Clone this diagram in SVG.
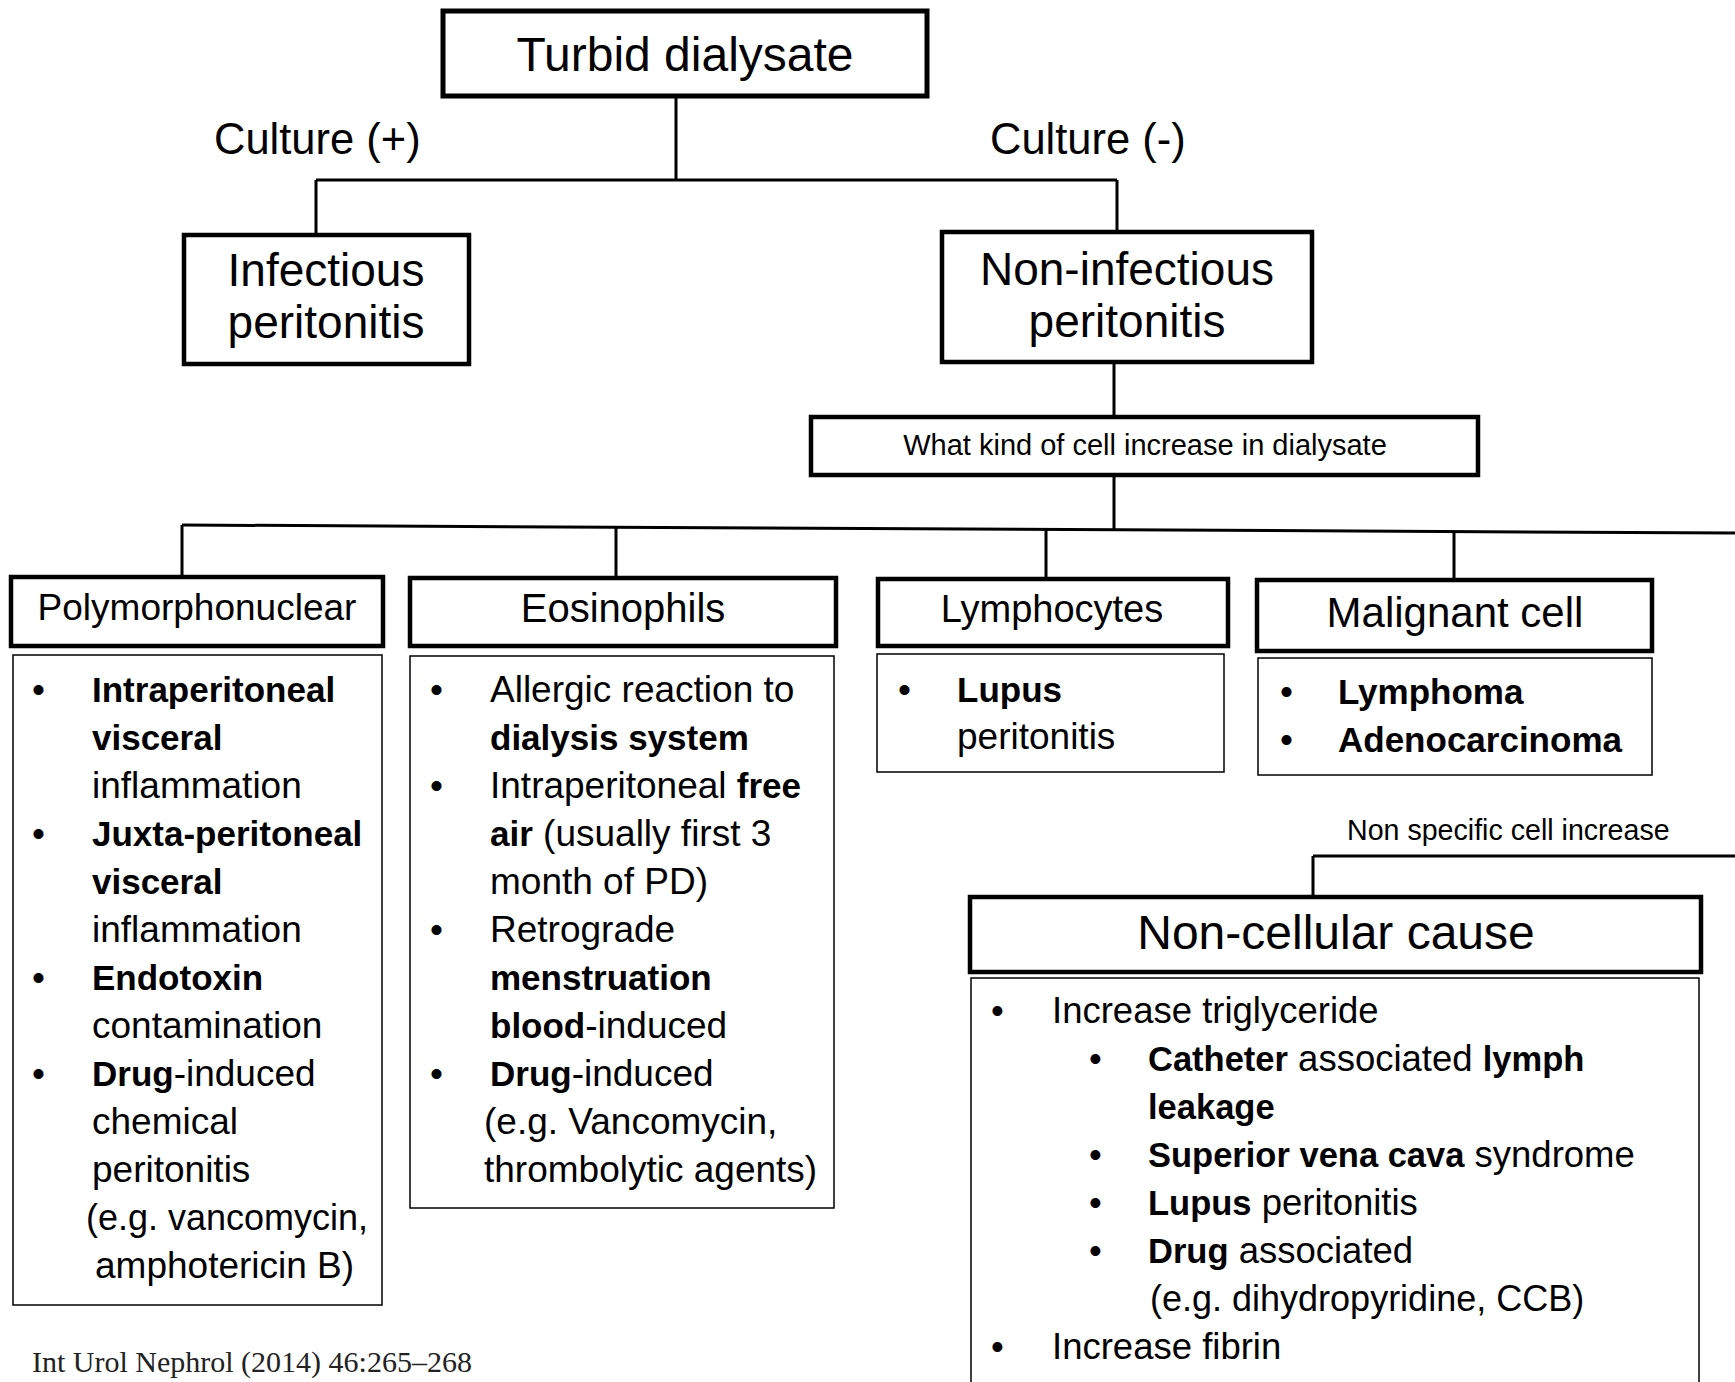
<svg xmlns="http://www.w3.org/2000/svg" width="1735" height="1382" viewBox="0 0 1735 1382">
<style>
text{font-family:"Liberation Sans",Arial,sans-serif;fill:#000}
.hdr{fill:#fff;stroke:#000;stroke-width:4.5}
.top{fill:#fff;stroke:#000;stroke-width:5}
.box{fill:#fff;stroke:#000;stroke-width:1.5}
.con{stroke:#000;stroke-width:3;fill:none}
.body{font-size:37px}
.b{font-weight:bold;font-size:35px}
.c{text-anchor:middle}
.cite{font-family:"Liberation Serif","Times New Roman",serif;font-size:30px;fill:#222}
</style>
<rect width="1735" height="1382" fill="#fff"/>
<g id="connectors">
<path class="con" d="M676 96V180M316 180H1117M316 180V235M1117 180V232"/>
<path class="con" d="M1114 362V417M1114 475V530"/>
<path class="con" d="M182 525L1735 533"/>
<path class="con" d="M182 525V577M616 527V578M1046 529V579M1454 531V580"/>
<path class="con" d="M1313 856H1735M1313 856V897"/>
</g>
<g id="label-culture-pos"><text x="214" y="154" font-size="43.5">Culture (+)</text></g>
<g id="label-culture-neg"><text x="990" y="154" font-size="43.5">Culture (-)</text></g>
<g id="label-nonspecific"><text x="1347" y="840" font-size="28.6">Non specific cell increase</text></g>
<g id="turbid">
<rect class="top" x="443" y="11" width="484" height="85"/>
<text class="c" x="685" y="71" font-size="48">Turbid dialysate</text>
</g>
<g id="infectious">
<rect class="hdr" x="184" y="235" width="285" height="129"/>
<text class="c" x="326" y="286" font-size="46">Infectious</text>
<text class="c" x="326" y="338" font-size="46">peritonitis</text>
</g>
<g id="noninfectious">
<rect class="hdr" x="942" y="232" width="370" height="130"/>
<text class="c" x="1127" y="285" font-size="46">Non-infectious</text>
<text class="c" x="1127" y="337" font-size="46">peritonitis</text>
</g>
<g id="whatkind">
<rect class="hdr" x="811" y="417" width="667" height="58"/>
<text class="c" x="1145" y="455" font-size="29">What kind of cell increase in dialysate</text>
</g>
<g id="poly">
<rect class="hdr" x="11" y="577" width="372" height="69"/>
<text class="c" x="197" y="620" font-size="37">Polymorphonuclear</text>
<rect class="box" x="13" y="655" width="369" height="650"/>
<g class="body">
<text x="32" y="702">•</text><text x="92" y="702"><tspan class="b">Intraperitoneal</tspan></text>
<text x="92" y="750"><tspan class="b">visceral</tspan></text>
<text x="92" y="798">inflammation</text>
<text x="32" y="846">•</text><text x="92" y="846"><tspan class="b">Juxta-peritoneal</tspan></text>
<text x="92" y="894"><tspan class="b">visceral</tspan></text>
<text x="92" y="942">inflammation</text>
<text x="32" y="990">•</text><text x="92" y="990"><tspan class="b">Endotoxin</tspan></text>
<text x="92" y="1038">contamination</text>
<text x="32" y="1086">•</text><text x="92" y="1086"><tspan class="b">Drug</tspan>-induced</text>
<text x="92" y="1134">chemical</text>
<text x="92" y="1182">peritonitis</text>
<text x="86" y="1230" font-size="36">(e.g. vancomycin,</text>
<text x="95" y="1278">amphotericin B)</text>
</g>
</g>
<g id="eos">
<rect class="hdr" x="410" y="578" width="426" height="68"/>
<text class="c" x="623" y="622" font-size="40">Eosinophils</text>
<rect class="box" x="410" y="656" width="424" height="552"/>
<g class="body">
<text x="430" y="702">•</text><text x="490" y="702">Allergic reaction to</text>
<text x="490" y="750"><tspan class="b">dialysis system</tspan></text>
<text x="430" y="798">•</text><text x="490" y="798">Intraperitoneal <tspan class="b">free</tspan></text>
<text x="490" y="846"><tspan class="b">air</tspan> (usually first 3</text>
<text x="490" y="894">month of PD)</text>
<text x="430" y="942">•</text><text x="490" y="942">Retrograde</text>
<text x="490" y="990"><tspan class="b">menstruation</tspan></text>
<text x="490" y="1038"><tspan class="b">blood</tspan>-induced</text>
<text x="430" y="1086">•</text><text x="490" y="1086"><tspan class="b">Drug</tspan>-induced</text>
<text x="484" y="1134">(e.g. Vancomycin,</text>
<text x="484" y="1182">thrombolytic agents)</text>
</g>
</g>
<g id="lymph">
<rect class="hdr" x="878" y="579" width="350" height="67"/>
<text class="c" x="1052" y="622" font-size="38">Lymphocytes</text>
<rect class="box" x="877" y="654" width="347" height="118"/>
<g class="body">
<text x="898" y="702">•</text><text x="957" y="702"><tspan class="b">Lupus</tspan></text>
<text x="957" y="749">peritonitis</text>
</g>
</g>
<g id="malig">
<rect class="hdr" x="1257" y="580" width="395" height="71"/>
<text class="c" x="1455" y="627" font-size="42">Malignant cell</text>
<rect class="box" x="1258" y="658" width="394" height="117"/>
<g class="body">
<text x="1280" y="704">•</text><text x="1338" y="704"><tspan class="b">Lymphoma</tspan></text>
<text x="1280" y="752">•</text><text x="1338" y="752"><tspan class="b">Adenocarcinoma</tspan></text>
</g>
</g>
<g id="noncellular">
<rect class="box" x="971" y="978" width="728" height="430"/>
<rect class="hdr" x="970" y="897" width="731" height="75"/>
<text class="c" x="1336" y="949" font-size="48">Non-cellular cause</text>
<g class="body" style="font-size:36.5px">
<text x="991" y="1023">•</text><text x="1052" y="1023">Increase triglyceride</text>
<text x="1089" y="1071">•</text><text x="1148" y="1071"><tspan class="b" style="font-size:34.5px">Catheter</tspan> associated <tspan class="b" style="font-size:34.5px">lymph</tspan></text>
<text x="1148" y="1119"><tspan class="b" style="font-size:34.5px">leakage</tspan></text>
<text x="1089" y="1167">•</text><text x="1148" y="1167"><tspan class="b" style="font-size:34.5px">Superior vena cava</tspan> syndrome</text>
<text x="1089" y="1215">•</text><text x="1148" y="1215"><tspan class="b" style="font-size:34.5px">Lupus</tspan> peritonitis</text>
<text x="1089" y="1263">•</text><text x="1148" y="1263"><tspan class="b" style="font-size:34.5px">Drug</tspan> associated</text>
<text x="1150" y="1311" style="font-size:36px">(e.g. dihydropyridine, CCB)</text>
<text x="991" y="1359">•</text><text x="1052" y="1359">Increase fibrin</text>
</g>
</g>
<g id="citation"><text class="cite" x="32" y="1372">Int Urol Nephrol (2014) 46:265–268</text></g>
</svg>
